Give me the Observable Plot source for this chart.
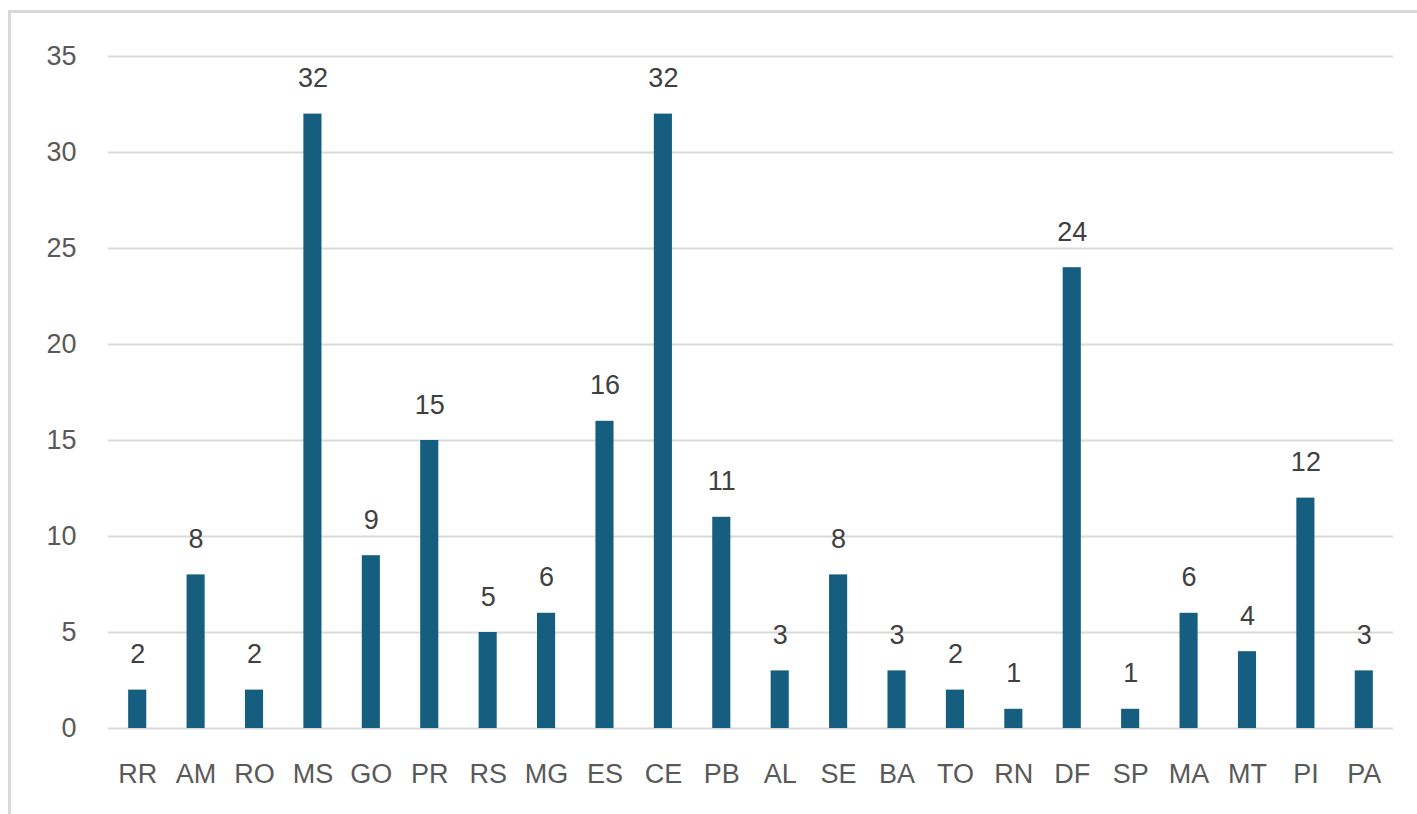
<!DOCTYPE html>
<html>
<head>
<meta charset="utf-8">
<script src="https://cdn.jsdelivr.net/npm/d3@7"></script>
<script src="https://cdn.jsdelivr.net/npm/@observablehq/plot@0.6"></script>
<style>
  html, body { margin: 0; padding: 0; background: #fff; }
  #wrap { position: relative; width: 1417px; height: 814px; overflow: hidden; }
  #border { position: absolute; left: 8px; top: 10px; width: 1500px; height: 900px;
            border-left: 3px solid #d9d9d9; border-top: 3px solid #d9d9d9; box-sizing: border-box; }
  #chart { position: absolute; left: 0; top: 0; }
</style>
</head>
<body>
<div id="wrap"><div id="border"></div><div id="chart"></div></div>
<script>
const states = ["RR","AM","RO","MS","GO","PR","RS","MG","ES","CE","PB","AL","SE","BA","TO","RN","DF","SP","MA","MT","PI","PA"];
const counts = [2,8,2,32,9,15,5,6,16,32,11,3,8,3,2,1,24,1,6,4,12,3];
const yTicks = [0,5,10,15,20,25,30,35];

const data = states.map((s, i) => ({state: s, value: counts[i]}));

const font = "'Liberation Sans', Arial, sans-serif";
const plot = Plot.plot({
  width: 1417,
  height: 814,
  marginLeft: 108,
  marginRight: 24,
  marginTop: 56,
  marginBottom: 86,
  style: {fontFamily: font, fontSize: "27px", color: "#595959", background: "transparent"},
  x: {domain: states, paddingInner: 0.69, paddingOuter: 0.345, round: false, label: null},
  y: {domain: [0, 35], label: null},
  marks: [
    Plot.gridY(yTicks, {stroke: "#d9d9d9", strokeOpacity: 1, strokeWidth: 2}),
    Plot.axisY(yTicks, {tickSize: 0, tickPadding: 32, fill: "#595959", fontSize: 27, label: null}),
    Plot.axisX({tickSize: 0, tickPadding: 35, fill: "#595959", fontSize: 27, label: null}),
    Plot.barY(data, {x: "state", y: "value", fill: "#155e80"}),
    Plot.text(data, {x: "state", y: "value", text: d => String(d.value), lineAnchor: "bottom", dy: -27, fill: "#404040", fontSize: 27})
  ]
});
document.getElementById("chart").appendChild(plot);
</script>
</body>
</html>
